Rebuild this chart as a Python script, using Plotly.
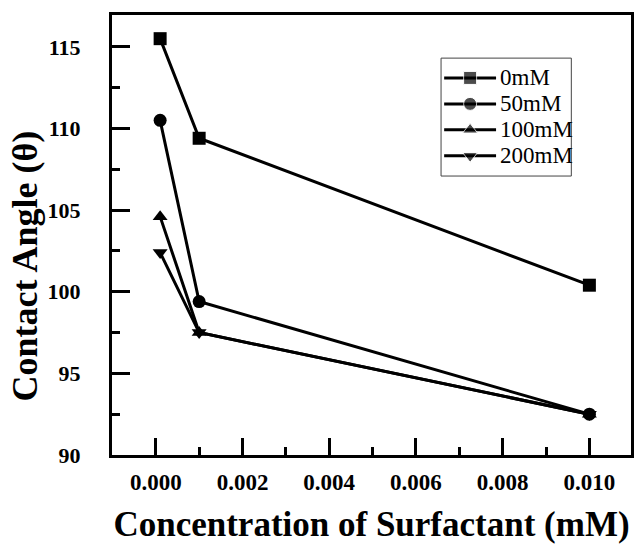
import plotly.graph_objects as go

# Surfactant concentration (mM) and contact angle for each salt level
conc = [0.0001, 0.001, 0.01]
angle_0mM = [115.5, 109.4, 100.4]
angle_50mM = [110.5, 99.4, 92.5]
angle_100mM = [104.6, 97.5, 92.5]
angle_200mM = [102.4, 97.5, 92.5]

series = [
    ("0mM", angle_0mM, "square"),
    ("50mM", angle_50mM, "circle"),
    ("100mM", angle_100mM, "triangle-up"),
    ("200mM", angle_200mM, "triangle-down"),
]

FONT = "Liberation Serif"
LINE_W = 3
MARKER_SIZE = 13

fig = go.Figure()
for name, ys, sym in series:
    fig.add_trace(go.Scatter(
        x=conc, y=ys, name=name, mode="lines+markers", showlegend=False,
        line=dict(color="black", width=LINE_W),
        marker=dict(symbol=sym, size=MARKER_SIZE, color="black"),
    ))

# Legend box drawn on a hidden overlay axis spanning the plot area (0..1)
LEG_X0, LEG_X1 = 0.634, 0.885
LEG_Y0, LEG_Y1 = 0.634, 0.902
KEY_X = [0.640, 0.690, 0.740]
ROW_Y = [0.857, 0.798, 0.739, 0.680]
for (name, _, sym), ry in zip(series, ROW_Y):
    fig.add_trace(go.Scatter(
        x=KEY_X, y=[ry] * 3, xaxis="x2", yaxis="y2",
        mode="lines+markers", showlegend=False, hoverinfo="skip",
        line=dict(color="black", width=LINE_W),
        marker=dict(symbol=sym, size=[0, MARKER_SIZE, 0], color="black"),
    ))
    fig.add_annotation(
        text=name, xref="x2", yref="y2", x=0.744, y=ry,
        xanchor="left", yanchor="middle", showarrow=False,
        font=dict(family=FONT, size=23, color="black"),
    )
fig.add_shape(
    type="rect", xref="x2", yref="y2",
    x0=LEG_X0, x1=LEG_X1, y0=LEG_Y0, y1=LEG_Y1,
    line=dict(color="#444", width=1), layer="below",
)

axis_common = dict(
    showgrid=False, zeroline=False,
    showline=True, linecolor="black", linewidth=3, mirror=True,
    ticks="inside", tickwidth=2.5, tickcolor="black",
)

fig.update_layout(
    xaxis=dict(
        range=[-0.00101, 0.01096],
        tickvals=[0, 0.002, 0.004, 0.006, 0.008, 0.010],
        ticktext=["0.000", "0.002", "0.004", "0.006", "0.008", "0.010"],
        ticklen=17,
        minor=dict(ticks="inside", ticklen=8, tickwidth=2.5, tickcolor="black",
                   tickvals=[0.001, 0.003, 0.005, 0.007, 0.009]),
        ticklabelstandoff=4,
        tickfont=dict(family=FONT, size=23, color="black", weight="bold"),
        title=dict(text="Concentration of Surfactant (mM)", standoff=18,
                   font=dict(family=FONT, size=35, color="black", weight="bold")),
        **axis_common,
    ),
    yaxis=dict(
        range=[90, 116.95],
        tickvals=[90, 95, 100, 105, 110, 115],
        ticklen=18,
        minor=dict(ticks="inside", ticklen=8, tickwidth=2.5, tickcolor="black",
                   tickvals=[92.5, 97.5, 102.5, 107.5, 112.5]),
        ticklabelstandoff=24,
        tickfont=dict(family=FONT, size=22, color="black", weight="bold"),
        **axis_common,
    ),
    xaxis2=dict(overlaying="x", range=[0, 1], visible=False, fixedrange=True),
    yaxis2=dict(overlaying="y", range=[0, 1], visible=False, fixedrange=True),
)

# Vertical axis title, placed as a rotated annotation
fig.add_annotation(
    text="<b>Contact Angle (θ)</b>", textangle=-90,
    xref="paper", yref="paper", x=-0.1667, y=0.4295,
    xanchor="center", yanchor="middle", showarrow=False,
    font=dict(family=FONT, size=36, color="black"),
)

fig.update_layout(
    width=636, height=551,
    margin=dict(l=112, r=2, t=15, b=96),
    plot_bgcolor="white", paper_bgcolor="white",
    font=dict(family=FONT, color="black"),
    showlegend=False,
)

fig.write_html("out.html")
